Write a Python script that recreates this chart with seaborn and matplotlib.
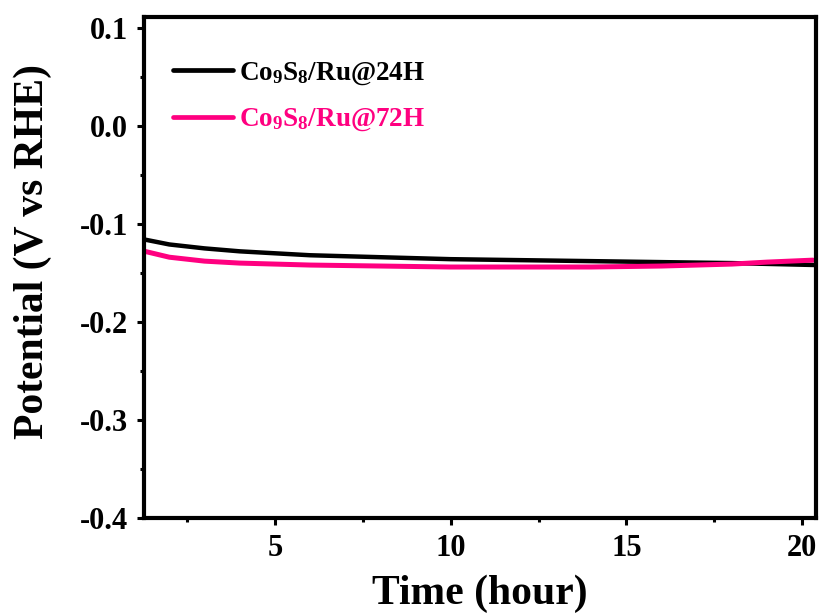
import matplotlib
matplotlib.use("Agg")
import matplotlib.pyplot as plt
from matplotlib.ticker import MultipleLocator
import seaborn as sns
import pandas as pd

# ---- data ----
t_24h = [1.3, 2.0, 3.0, 4.0, 5.0, 6.0, 8.0, 10.0, 12.0, 14.0, 16.0, 18.0, 20.4]
v_24h = [-0.116, -0.121, -0.125, -0.128, -0.130, -0.132, -0.134, -0.136,
         -0.137, -0.138, -0.139, -0.140, -0.142]
t_72h = [1.3, 2.0, 3.0, 4.0, 5.0, 6.0, 8.0, 10.0, 12.0, 14.0, 16.0, 17.0,
         18.0, 19.0, 20.3]
v_72h = [-0.128, -0.134, -0.138, -0.140, -0.141, -0.142, -0.143, -0.144,
         -0.144, -0.144, -0.143, -0.142, -0.141, -0.139, -0.137]
labels = [r"Co$_{9}$S$_{8}$/Ru@24H", r"Co$_{9}$S$_{8}$/Ru@72H"]
colors = ["#000000", "#FF0080"]

df = pd.concat([
    pd.DataFrame({"Time": t_24h, "Potential": v_24h, "Sample": labels[0]}),
    pd.DataFrame({"Time": t_72h, "Potential": v_72h, "Sample": labels[1]}),
])

sns.set_theme(style="ticks")
plt.rcParams["font.family"] = ["Liberation Serif", "DejaVu Serif"]
plt.rcParams["font.weight"] = "bold"
plt.rcParams["mathtext.fontset"] = "custom"
plt.rcParams["mathtext.rm"] = "Liberation Serif:bold"
plt.rcParams["mathtext.it"] = "Liberation Serif:bold"
plt.rcParams["mathtext.bf"] = "Liberation Serif:bold"
plt.rcParams["mathtext.default"] = "rm"

fig = plt.figure(figsize=(8.22, 6.13), dpi=100)
ax = fig.add_axes([144 / 822, 1 - 518 / 613, 672 / 822, 501 / 613])

sns.lineplot(data=df, x="Time", y="Potential", hue="Sample",
             palette=dict(zip(labels, colors)), ax=ax, linewidth=3.2,
             legend=False)
ax.lines[1].set_linewidth(3.6)

ax.set_xlim(1.28, 20.39)
ax.set_ylim(-0.4, 0.111)
ax.xaxis.set_major_locator(MultipleLocator(5))
ax.xaxis.set_minor_locator(MultipleLocator(2.5))
ax.yaxis.set_major_locator(MultipleLocator(0.1))
ax.yaxis.set_minor_locator(MultipleLocator(0.05))
ax.set_yticks([-0.4, -0.3, -0.2, -0.1, 0.0, 0.1])
ax.set_yticklabels(["-0.4", "-0.3", "-0.2", "-0.1", "0.0", "0.1"])

for s in ax.spines.values():
    s.set_linewidth(3.0)
    s.set_color("black")
ax.tick_params(which="major", direction="out", length=5, width=2.2,
               labelsize=22, colors="black", pad=6.5)
ax.tick_params(which="minor", direction="out", length=3, width=2.2,
               colors="black")
ax.tick_params(top=False, right=False, which="both")
for lab in ax.get_xticklabels() + ax.get_yticklabels():
    lab.set_fontweight("bold")

ax.set_xlabel("Time (hour)", fontsize=30, fontweight="bold", color="black")
ax.set_ylabel("Potential (V vs RHE)", fontsize=30, fontweight="bold",
              color="black")
ax.xaxis.set_label_coords(0.5, -0.113)
ax.yaxis.set_label_coords(-0.137, 0.531)

handles = [plt.Line2D([], [], color=c, linewidth=3.4) for c in colors]
leg = ax.legend(handles, labels, loc="upper left",
                bbox_to_anchor=(29 / 672, (518 - 60) / 501),
                frameon=False, fontsize=19.5, handlelength=2.2,
                handletextpad=0.25, labelspacing=0.75, borderpad=0,
                borderaxespad=0)
for txt, c in zip(leg.get_texts(), colors):
    txt.set_color(c)
    txt.set_fontweight("bold")

fig.savefig("out.png", dpi=100, facecolor="white")
